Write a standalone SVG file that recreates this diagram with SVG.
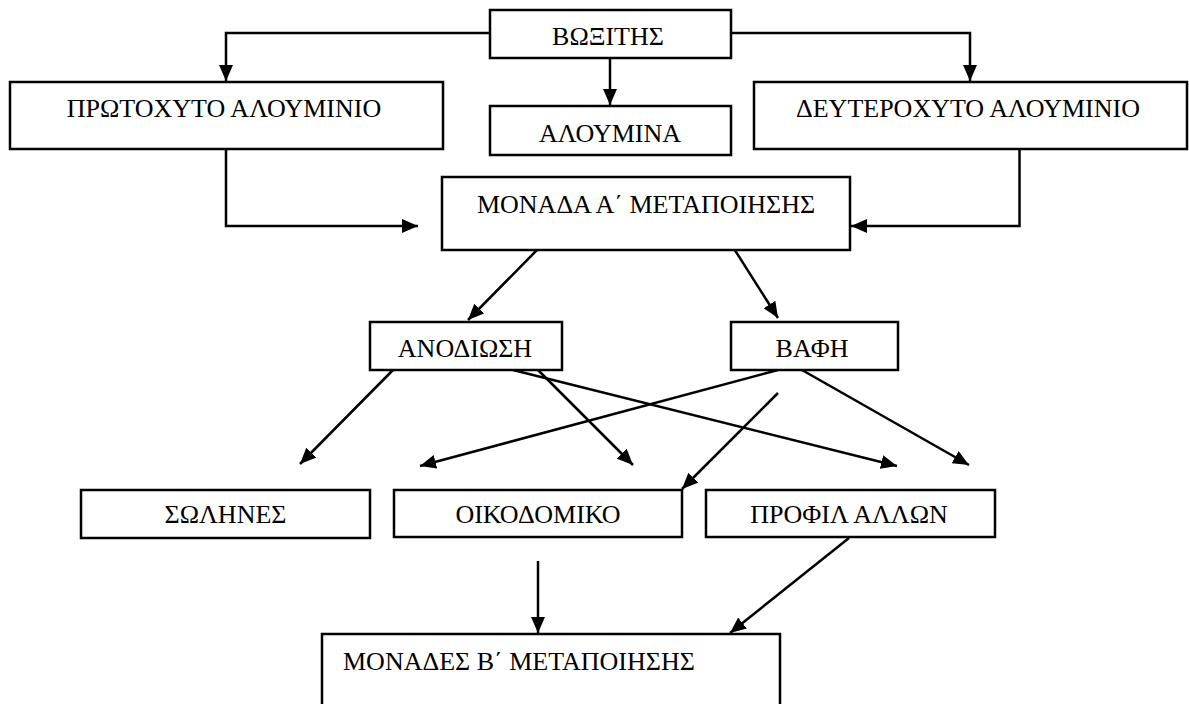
<svg xmlns="http://www.w3.org/2000/svg" width="1189" height="704" viewBox="0 0 1189 704">
<style>
.box{fill:#fff;stroke:#000;stroke-width:2.5}
.lbl{font-family:"Liberation Serif","DejaVu Serif","Times New Roman",serif;font-size:26px;fill:#000;text-anchor:middle}
.c{fill:none;stroke:#000;stroke-width:2.5;marker-end:url(#ah)}
</style>
<defs>
<marker id="ah" markerUnits="userSpaceOnUse" markerWidth="16" markerHeight="14" refX="16" refY="7" orient="auto">
<path d="M0,0 L16,7 L0,14 z" fill="#000"/>
</marker>
</defs>
<rect width="1189" height="704" fill="#fff"/>
<g id="connectors">
<path class="c" d="M490,33 H226 V81"/>
<path class="c" d="M731,33 H970 V81"/>
<path class="c" d="M610,58 V105"/>
<path class="c" d="M226,149 V226 H418"/>
<path class="c" d="M1019.5,149 V226 H851"/>
<path class="c" d="M537,250 L468,320"/>
<path class="c" d="M731,244 L778,318"/>
<path class="c" d="M393,370 L300,464"/>
<path class="c" d="M538,370 L633,465"/>
<path class="c" d="M513,370 L897,466"/>
<path class="c" d="M778,370 L420,466"/>
<path class="c" d="M802,370 L969,465"/>
<path class="c" d="M778,393 L682,489"/>
<path class="c" d="M538,561 V633"/>
<path class="c" d="M849,538 L730,633"/>
</g>
<g id="bauxite"><rect class="box" x="490" y="10" width="241" height="48"/><text class="lbl" x="608" y="45">ΒΩΞΙΤΗΣ</text></g>
<g id="primary"><rect class="box" x="10" y="82" width="433" height="67"/><text class="lbl" x="224" y="117">ΠΡΩΤΟΧΥΤΟ ΑΛΟΥΜΙΝΙΟ</text></g>
<g id="alumina"><rect class="box" x="490" y="106" width="241" height="49"/><text class="lbl" x="610" y="142">ΑΛΟΥΜΙΝΑ</text></g>
<g id="secondary"><rect class="box" x="754" y="82" width="433" height="67"/><text class="lbl" x="968" y="117">ΔΕΥΤΕΡΟΧΥΤΟ ΑΛΟΥΜΙΝΙΟ</text></g>
<g id="unitA"><rect class="box" x="442" y="177" width="408" height="73"/><text class="lbl" x="646" y="213">ΜΟΝΑΔΑ Α΄ ΜΕΤΑΠΟΙΗΣΗΣ</text></g>
<g id="anodizing"><rect class="box" x="370" y="322" width="192" height="48"/><text class="lbl" x="465" y="357">ΑΝΟΔΙΩΣΗ</text></g>
<g id="painting"><rect class="box" x="731" y="322" width="167" height="48"/><text class="lbl" x="812" y="357">ΒΑΦΗ</text></g>
<g id="pipes"><rect class="box" x="81" y="490" width="289" height="48"/><text class="lbl" x="225.5" y="523">ΣΩΛΗΝΕΣ</text></g>
<g id="building"><rect class="box" x="394" y="490" width="288" height="47"/><text class="lbl" x="538" y="523">ΟΙΚΟΔΟΜΙΚΟ</text></g>
<g id="profiles"><rect class="box" x="706" y="490" width="289" height="47"/><text class="lbl" x="849" y="523">ΠΡΟΦΙΛ ΑΛΛΩΝ</text></g>
<g id="unitB"><rect class="box" x="322" y="634" width="458" height="90"/><text class="lbl" x="343" y="670" style="text-anchor:start">ΜΟΝΑΔΕΣ Β΄ ΜΕΤΑΠΟΙΗΣΗΣ</text></g>
</svg>
